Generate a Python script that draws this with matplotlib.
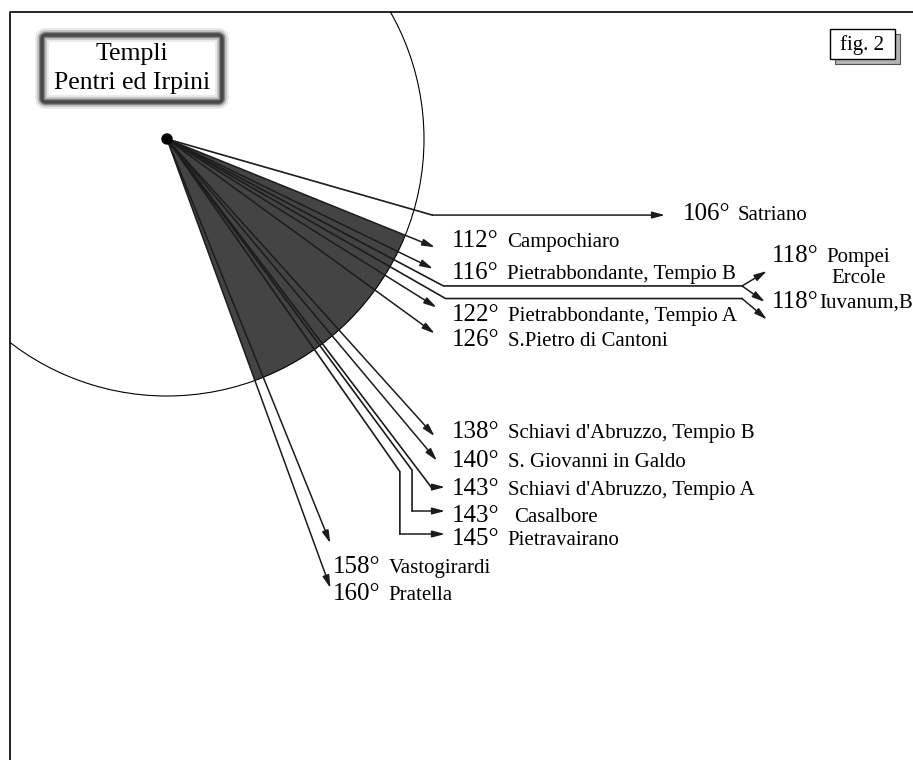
import numpy as np
import matplotlib
matplotlib.use("Agg")
import matplotlib.pyplot as plt
from matplotlib.patches import Polygon, Circle, Rectangle, FancyBboxPatch

plt.rcParams['font.family'] = ['Liberation Serif', 'DejaVu Serif']

# azimuths of the temples (degrees, clockwise from north) and their names
degrees = [106, 112, 116, 118, 118, 122, 126, 138, 140, 143, 143, 145, 158, 160]
sites = ["Satriano", "Campochiaro", "Pietrabbondante, Tempio B", "Pompei\nErcole",
         "Iuvanum,B", "Pietrabbondante, Tempio A", "S.Pietro di Cantoni",
         "Schiavi d'Abruzzo, Tempio B", "S. Giovanni in Galdo",
         "Schiavi d'Abruzzo, Tempio A", "Casalbore", "Pietravairano",
         "Vastogirardi", "Pratella"]
sector = [112, 160]
title_lines = ["Templi", "Pentri ed Irpini"]
fig_label = "fig. 2"

# layout in pixels (y goes down)
cx, cy = 167, 139
radius = 257
reach = [276, 289, 296, 313, 321, 318, 331, 400, 420, 437, 412, 406, 436, 478]
route = ['h', 'd', 'd', 'fork', 'diag', 'd', 'd', 'd', 'd', 'h', 'vh', 'vh', 'd', 'd']
nudge = [0, 0, 0, 0, 1.8, 0, 0, 0, 0, -0.2, 0.5, 0, 0, 0]
end_x = [665, None, None, 767, 767, None, None, None, None, 445, 445, 445, None, None]
turn_x = 742
lab_x = [683, 452, 452, 772, 772, 452, 452, 452, 452, 452, 452, 452, 333, 333]
lab_base = [220, 247, 279, 262, 308, 321, 346, 438, 467, 495, 522, 545, 573, 600]
gap = [7, 8, 8, 8, 1, 8, 8, 8, 8, 8, 15, 8, 8, 8]

line_col = '#1c1c1c'


def polar(az, r):
    a = np.radians(az)
    return cx + r * np.sin(a), cy - r * np.cos(a)


def arrow(ax, p_from, p_to):
    ax.annotate('', xy=p_to, xytext=p_from,
                arrowprops=dict(arrowstyle='-|>,head_length=0.75,head_width=0.2',
                                color=line_col, lw=1.1, shrinkA=0, shrinkB=0,
                                mutation_scale=10), zorder=4)


fig = plt.figure(figsize=(9.13, 7.6), dpi=100)
ax = fig.add_axes([0, 0, 1, 1])
ax.set_xlim(0, 913)
ax.set_ylim(760, 0)
ax.axis('off')

# frame
ax.plot([10, 10, 913], [760, 12, 12], color='k', lw=1.2, solid_capstyle='butt')
clip = Rectangle((10, 12), 903, 748, transform=ax.transData)

# shaded sector and circle
arc = np.linspace(sector[0], sector[1], 80)
ax_, ay_ = polar(arc, radius)
wedge = Polygon(np.column_stack([np.r_[cx, ax_], np.r_[cy, ay_]]),
                closed=True, facecolor='#444444', edgecolor='none', zorder=1)
ax.add_patch(wedge)
circ = Circle((cx, cy), radius, fill=False, edgecolor='k', lw=0.8, zorder=2)
ax.add_patch(circ)
circ.set_clip_path(clip)

# lines to each temple
for i, deg in enumerate(degrees):
    p0 = (cx, cy)
    p1 = polar(deg + nudge[i], reach[i])
    kind = route[i]
    if kind == 'd':
        pts = [p0, p1]
    elif kind == 'h':
        pts = [p0, p1, (end_x[i], p1[1])]
    elif kind == 'vh':
        ty = lab_base[i] - 11
        pts = [p0, p1, (p1[0], ty), (end_x[i], ty)]
    elif kind == 'fork':
        pts = [p0, p1, (turn_x, p1[1]), (end_x[i], lab_base[i] + 9)]
        arrow(ax, (turn_x, p1[1]), (end_x[i] - 2, lab_base[i + 1] - 6))
    else:
        pts = [p0, p1, (turn_x, p1[1]), (end_x[i], p1[1] + 21)]
    xs = [p[0] for p in pts]
    ys = [p[1] for p in pts]
    ax.plot(xs[:-1], ys[:-1], color=line_col, lw=1.2, zorder=3,
            solid_joinstyle='miter')
    arrow(ax, pts[-2], pts[-1])

ax.add_patch(Circle((cx, cy), 5, color='k', zorder=6))

# labels
renderer = fig.canvas.get_renderer()
inv = ax.transData.inverted()
for i, deg in enumerate(degrees):
    t = ax.text(lab_x[i], lab_base[i], f"{deg}°", fontsize=18, va='baseline',
                ha='left', zorder=7)
    bb = t.get_window_extent(renderer)
    x1 = inv.transform((bb.x1, bb.y0))[0]
    parts = sites[i].split('\n')
    n = ax.text(x1 + gap[i], lab_base[i], parts[0], fontsize=15, va='baseline',
                ha='left', zorder=7)
    if len(parts) > 1:
        nb = n.get_window_extent(renderer)
        mid = inv.transform(((nb.x0 + nb.x1) / 2, nb.y0))[0]
        ax.text(mid, lab_base[i] + 21, parts[1], fontsize=15, va='baseline',
                ha='center', zorder=7)

# title box with soft border
for lw, al in [(10, 0.10), (7, 0.22), (4.5, 0.45), (2.5, 0.8)]:
    ax.add_patch(FancyBboxPatch((42, 35), 180, 67,
                                boxstyle='round,pad=0,rounding_size=4',
                                facecolor='none', edgecolor='#3a3a3a',
                                lw=lw, alpha=al, zorder=5))
ax.text(132, 60, title_lines[0], fontsize=18.5, ha='center', va='baseline', zorder=7)
ax.text(132, 89, title_lines[1], fontsize=18.5, ha='center', va='baseline', zorder=7)

# fig. 2 box with shadow
ax.add_patch(Rectangle((835, 34), 65, 30, facecolor='#b4b4b4', edgecolor='#555555',
                       lw=0.8, zorder=5))
ax.add_patch(Rectangle((830, 29), 65, 30, facecolor='white', edgecolor='k',
                       lw=1.0, zorder=6))
ax.text(862.5, 50, fig_label, fontsize=15, ha='center', va='baseline', zorder=7)

fig.savefig("out.png", dpi=100)
